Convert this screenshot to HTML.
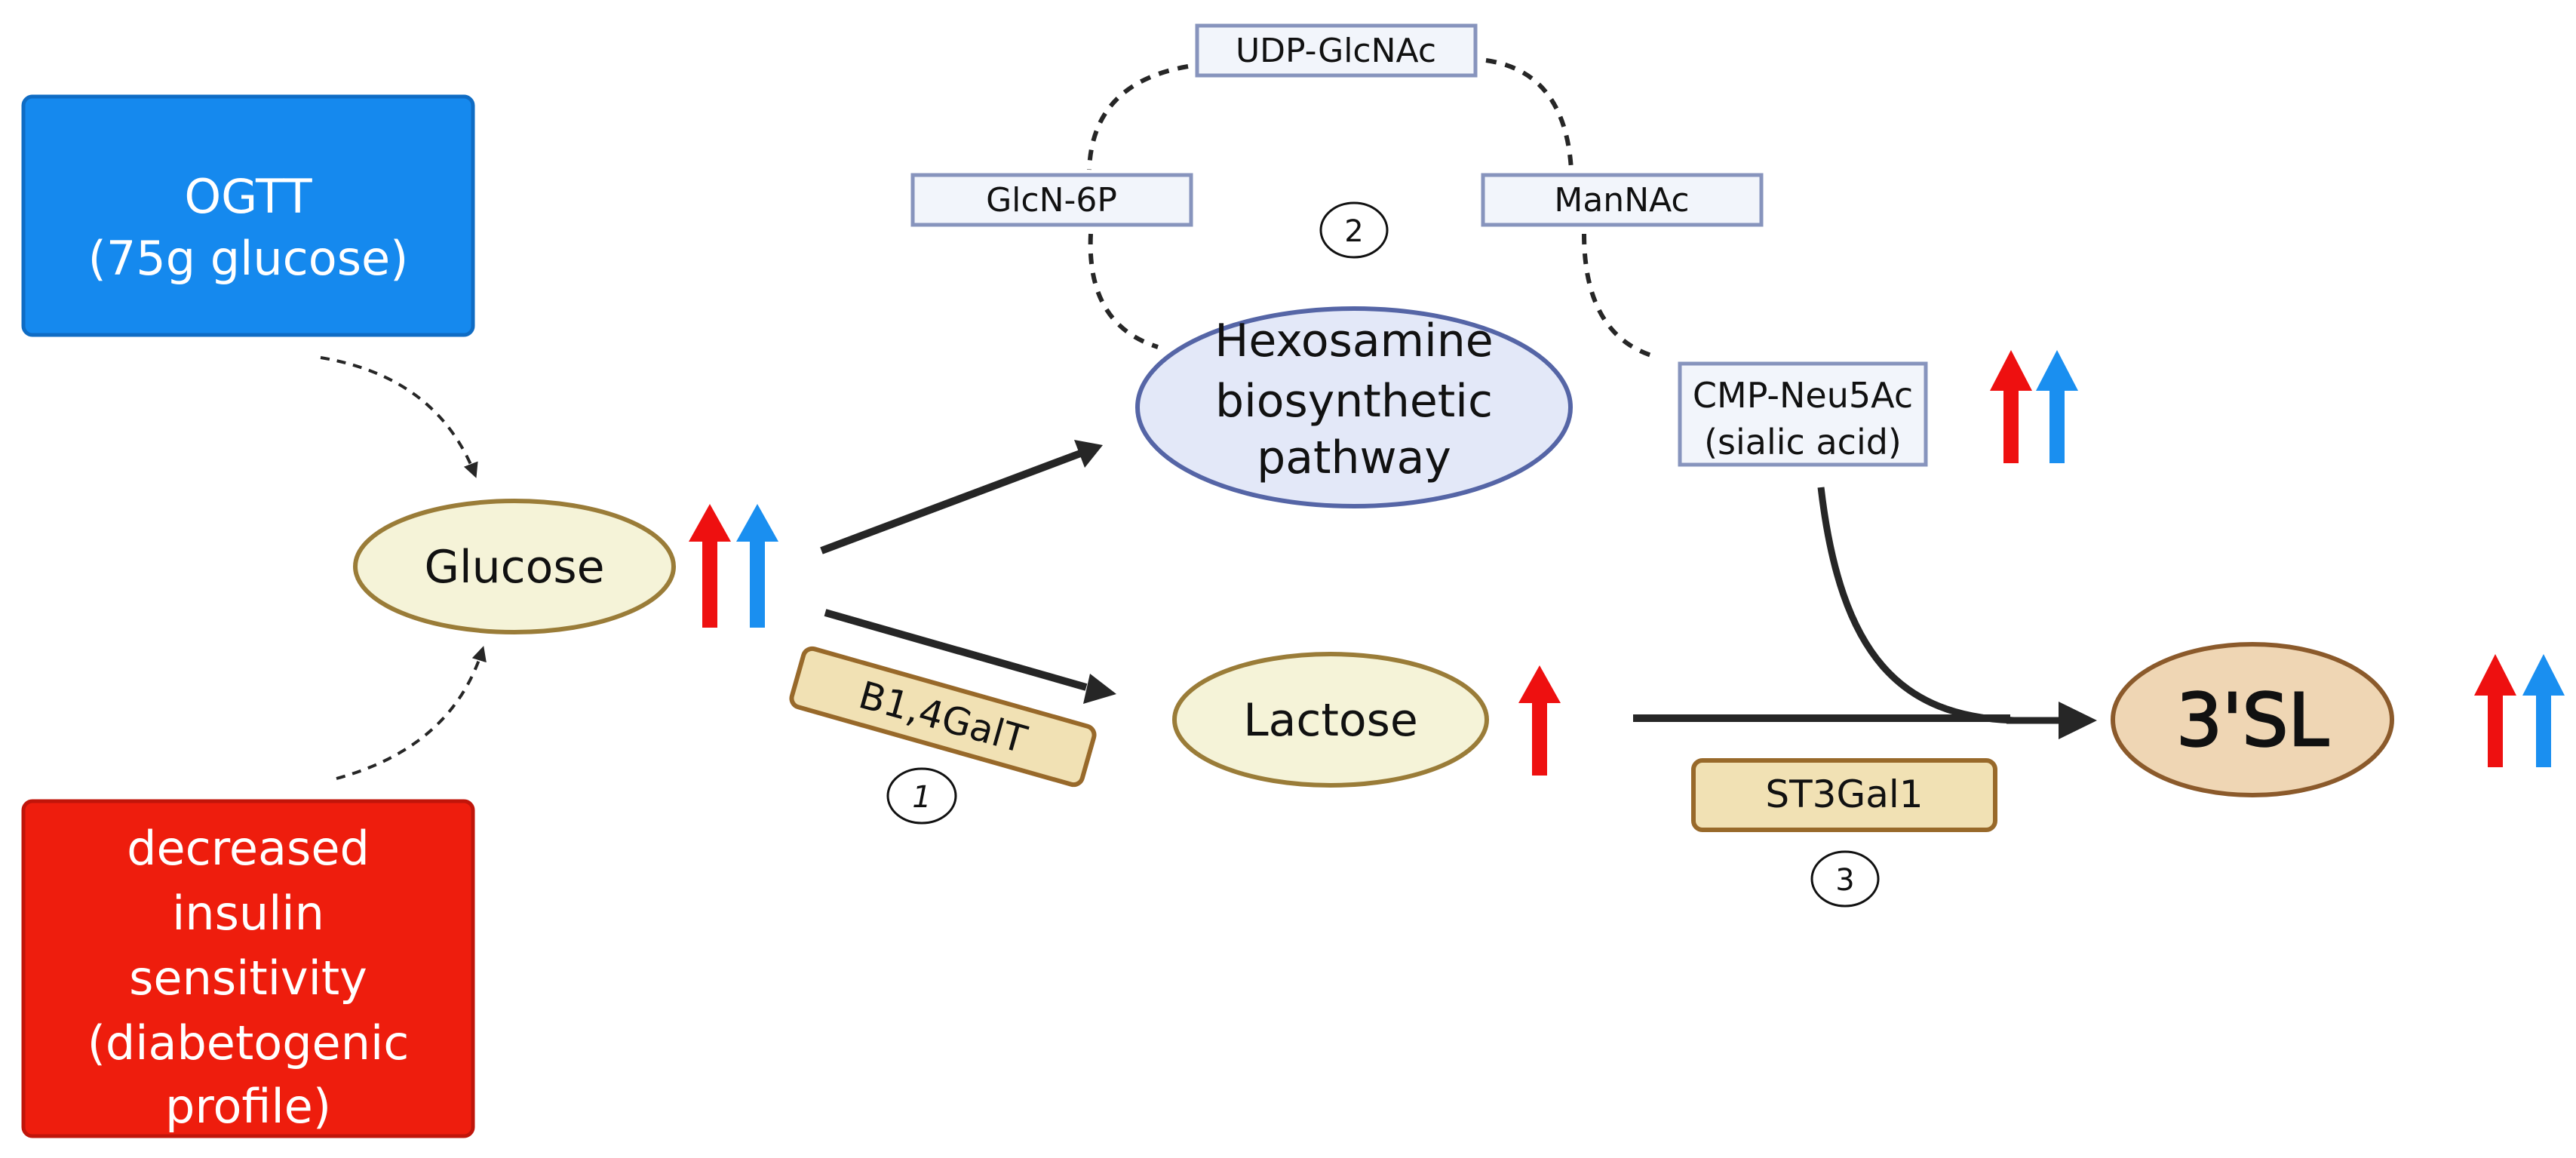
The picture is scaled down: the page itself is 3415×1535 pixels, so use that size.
<!DOCTYPE html>
<html><head><meta charset="utf-8"><style>
html,body{margin:0;padding:0;background:#fff;}
svg{display:block;}
text{font-family:"DejaVu Sans","Liberation Sans",sans-serif;}
</style></head><body>
<svg width="3415" height="1535" viewBox="0 0 3415 1535" xmlns="http://www.w3.org/2000/svg">
<defs>
<marker id="ahs" viewBox="0 0 10 10" refX="8" refY="5" markerWidth="20" markerHeight="20" orient="auto" markerUnits="userSpaceOnUse"><path d="M0,0 L10,5 L0,10 z" fill="#262626"/></marker>
</defs>

<rect x="31" y="128" width="596" height="316" rx="12" fill="#1589ee" stroke="#0f6cc4" stroke-width="5"/>
<text x="329" y="282" font-size="62" fill="#fff" text-anchor="middle">OGTT</text>
<text x="329" y="364" font-size="62" fill="#fff" text-anchor="middle">(75g glucose)</text>

<rect x="31" y="1062" width="596" height="444" rx="12" fill="#ee1d0d" stroke="#c0150a" stroke-width="5"/>
<g font-size="62" fill="#fff" text-anchor="middle">
<text x="329" y="1146">decreased</text>
<text x="329" y="1232">insulin</text>
<text x="329" y="1318">sensitivity</text>
<text x="329" y="1404">(diabetogenic</text>
<text x="329" y="1488">profile)</text>
</g>

<path d="M425,474 Q580,500 630,630" fill="none" stroke="#262626" stroke-width="4" stroke-dasharray="12,10" marker-end="url(#ahs)"/>
<path d="M446,1032 Q600,990 640,860" fill="none" stroke="#262626" stroke-width="4" stroke-dasharray="12,10" marker-end="url(#ahs)"/>

<ellipse cx="682" cy="751" rx="211" ry="87" fill="#f5f3d8" stroke="#9a7c38" stroke-width="6"/>
<text x="682" y="772" font-size="60" text-anchor="middle" fill="#111">Glucose</text>

<path d="M931,832 V718 H913 L941,668 L969,718 H951 V832 Z" fill="#ee1010"/>
<path d="M994,832 V718 H976 L1004,668 L1032,718 H1014 V832 Z" fill="#1a8ff0"/>

<line x1="1089" y1="730" x2="1435" y2="600" stroke="#262626" stroke-width="10"/>
<path d="M1462,590 L1424,583 L1438,620 Z" fill="#262626"/>
<line x1="1094" y1="812" x2="1440" y2="911" stroke="#262626" stroke-width="10"/>
<path d="M1480,920 L1445,893 L1436,933 Z" fill="#262626"/>

<g transform="translate(1250,950) rotate(15.8)">
<rect x="-200" y="-40" width="400" height="80" rx="12" fill="#f1e1b4" stroke="#98692a" stroke-width="6"/>
<text x="0" y="18" font-size="50" text-anchor="middle" fill="#111">B1,4GalT</text>
</g>
<ellipse cx="1222" cy="1055" rx="45" ry="36" fill="#fff" stroke="#111" stroke-width="3"/>
<text x="1222" y="1070" font-size="40" text-anchor="middle" font-style="italic" fill="#111">1</text>

<ellipse cx="1764" cy="954" rx="207" ry="87" fill="#f5f3d8" stroke="#9a7c38" stroke-width="6"/>
<text x="1764" y="975" font-size="60" text-anchor="middle" fill="#111">Lactose</text>
<path d="M2031,1028 V932 H2013 L2041,882 L2069,932 H2051 V1028 Z" fill="#ee1010"/>

<ellipse cx="1795" cy="540" rx="287" ry="131" fill="#e3e8f8" stroke="#5565a6" stroke-width="6"/>
<g font-size="60" text-anchor="middle" fill="#111">
<text x="1795" y="472">Hexosamine</text>
<text x="1795" y="552">biosynthetic</text>
<text x="1795" y="627">pathway</text>
</g>

<g font-size="44" text-anchor="middle" fill="#111">
<rect x="1587" y="34" width="369" height="66" fill="#f2f5fb" stroke="#8794bd" stroke-width="5"/>
<text x="1771" y="82">UDP-GlcNAc</text>
<rect x="1210" y="232" width="369" height="66" fill="#f2f5fb" stroke="#8794bd" stroke-width="5"/>
<text x="1394" y="280">GlcN-6P</text>
<rect x="1966" y="232" width="369" height="66" fill="#f2f5fb" stroke="#8794bd" stroke-width="5"/>
<text x="2150" y="280">ManNAc</text>
</g>
<ellipse cx="1795" cy="305" rx="44" ry="36" fill="#fff" stroke="#111" stroke-width="3"/>
<text x="1795" y="320" font-size="40" text-anchor="middle" fill="#111">2</text>

<g fill="none" stroke="#262626" stroke-width="6" stroke-dasharray="14,12">
<path d="M1575,88 Q1448,110 1444,225"/>
<path d="M1446,310 Q1440,430 1535,460"/>
<path d="M1970,80 Q2075,95 2083,225"/>
<path d="M2100,310 Q2100,445 2195,473"/>
</g>

<rect x="2227" y="482" width="326" height="134" fill="#f2f5fb" stroke="#8794bd" stroke-width="5"/>
<text x="2390" y="540" font-size="46" text-anchor="middle" fill="#111">CMP-Neu5Ac</text>
<text x="2390" y="602" font-size="46" text-anchor="middle" fill="#111">(sialic acid)</text>
<path d="M2656,614 V518 H2638 L2666,464 L2694,518 H2676 V614 Z" fill="#ee1010"/>
<path d="M2717,614 V518 H2699 L2727,464 L2755,518 H2737 V614 Z" fill="#1a8ff0"/>

<path d="M2414,646 C2440,870 2520,950 2670,955" fill="none" stroke="#262626" stroke-width="9"/>
<line x1="2165" y1="952" x2="2665" y2="952" stroke="#262626" stroke-width="10"/>
<path d="M2660,955 L2740,955" stroke="#262626" stroke-width="9"/>
<path d="M2780,955 L2729,930 L2729,980 Z" fill="#262626"/>

<rect x="2245" y="1008" width="400" height="92" rx="12" fill="#f1e1b4" stroke="#98692a" stroke-width="6"/>
<text x="2445" y="1070" font-size="50" text-anchor="middle" fill="#111">ST3Gal1</text>
<ellipse cx="2446" cy="1165" rx="44" ry="36" fill="#fff" stroke="#111" stroke-width="3"/>
<text x="2446" y="1180" font-size="40" text-anchor="middle" fill="#111">3</text>

<ellipse cx="2986" cy="954" rx="185" ry="100" fill="#efd6b4" stroke="#8b5a2b" stroke-width="6"/>
<text x="2986" y="988" font-size="96" text-anchor="middle" fill="#111" stroke="#111" stroke-width="2.5">3'SL</text>
<path d="M3298,1017 V922 H3280 L3308,867 L3336,922 H3318 V1017 Z" fill="#ee1010"/>
<path d="M3362,1017 V922 H3344 L3372,867 L3400,922 H3382 V1017 Z" fill="#1a8ff0"/>
</svg>
</body></html>
